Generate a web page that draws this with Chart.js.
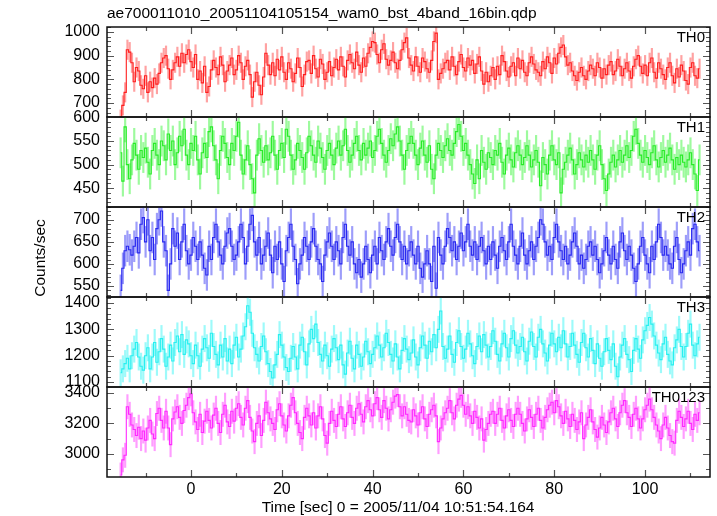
<!DOCTYPE html>
<html><head><meta charset="utf-8">
<script src="https://cdn.jsdelivr.net/npm/chart.js@4.4.1/dist/chart.umd.min.js"></script>
<style>html,body{margin:0;padding:0;background:#fff;}#wrap{position:relative;width:717px;height:516px;background:#fff;}canvas{position:absolute;left:0;top:0;}</style>
</head><body><div id="wrap"></div>
<script>
const plotTitle = "ae700011010_20051104105154_wam0_bst_4band_16bin.qdp";
const xTitle = "Time [sec] 0 = 2005/11/04 10:51:54.164";
const yTitle = "Counts/sec";
const bandNames = ["TH0", "TH1", "TH2", "TH3", "TH0123"];
const timeStart = -15.5;
const binWidth = 0.5;
const xTickLabels = [0, 20, 40, 60, 80, 100];

const TH0 = [
630,690,745,925,915,870,790,850,835,775,760,815,745,790,765,805,
780,825,870,890,900,845,800,840,870,895,855,910,870,905,925,875,
850,905,800,835,785,855,745,770,840,880,850,820,895,860,790,835,
860,890,820,840,900,870,800,855,880,820,725,790,830,775,735,810,
910,860,820,870,815,885,840,895,830,800,870,845,790,825,890,850,
770,820,875,880,825,900,845,810,885,865,800,830,875,815,850,885,
840,895,855,810,880,905,870,845,915,860,830,890,855,910,935,960,
955,905,870,925,950,885,860,880,915,870,845,880,925,955,975,890,
860,835,895,855,830,890,875,845,830,880,960,995,800,825,845,870,
880,840,895,855,820,875,905,850,835,890,860,880,825,865,895,835,
780,830,790,815,850,800,855,820,900,875,835,810,855,870,815,890,
845,880,830,815,870,895,865,840,830,815,875,845,895,870,825,890,
865,910,935,945,895,860,870,835,815,795,830,850,815,800,835,860,
845,815,870,850,805,845,820,860,875,820,835,885,855,815,845,870,
835,805,855,885,900,855,825,860,815,870,890,830,805,870,845,820,
800,850,870,815,785,845,810,860,835,795,780,850,870,815,805,845];
const TH1 = [
525,465,580,500,470,510,545,520,490,530,515,535,505,480,530,545,
520,500,550,540,510,565,530,550,500,525,560,540,575,520,500,545,
530,560,510,480,525,545,515,570,580,540,510,470,530,560,545,515,
500,545,530,560,590,520,480,510,540,500,470,440,520,555,530,505,
540,510,525,560,520,490,530,545,515,575,560,520,490,510,545,530,
515,490,525,560,540,520,505,550,535,515,490,530,545,520,500,535,
550,520,540,575,530,505,520,545,560,530,510,545,520,535,550,515,
530,560,575,545,520,505,530,555,540,565,580,550,520,490,530,545,
560,545,520,500,535,550,520,505,540,490,470,520,545,530,515,540,
555,530,520,545,570,585,560,530,545,520,500,480,460,510,470,530,
505,490,525,515,500,530,520,545,505,480,520,535,510,495,525,540,
520,500,515,540,520,495,510,530,505,455,515,500,480,520,540,510,
500,525,440,490,505,520,535,510,480,500,525,510,495,520,505,530,
510,490,520,540,500,470,445,480,505,520,495,510,530,505,520,540,
515,530,560,575,545,520,505,530,515,500,525,540,510,495,515,530,
505,520,535,510,490,515,500,520,505,495,510,525,500,480,445,510];
const TH2 = [
540,590,630,640,632,620,640,660,625,690,705,650,700,630,660,610,
680,700,720,650,630,540,600,680,640,670,610,650,690,630,600,620,
660,640,610,650,620,590,575,640,610,660,690,650,620,600,640,670,
680,640,610,620,650,690,660,600,640,690,710,650,620,660,600,620,
640,670,620,580,640,610,650,600,560,630,660,690,640,610,555,600,
620,660,640,610,650,680,640,610,600,560,620,650,670,640,610,650,
630,600,660,690,640,620,650,600,580,610,570,600,640,610,580,620,
640,600,660,630,610,650,680,640,620,660,690,650,610,640,600,630,
650,620,600,640,590,570,600,630,600,560,640,545,660,620,600,640,
680,660,630,650,610,640,670,630,650,690,640,620,650,610,640,660,
630,600,640,610,650,620,590,640,660,630,610,650,690,640,620,600,
640,670,620,600,630,650,610,640,660,700,690,650,620,640,610,660,
690,650,630,610,640,600,620,650,670,640,600,620,590,610,640,650,
620,640,610,580,600,630,660,620,600,640,610,590,650,670,630,610,
640,620,590,560,600,640,660,620,600,580,640,610,650,690,660,620,
640,620,600,590,640,660,610,580,600,630,650,620,680,690,650,630];
const TH3 = [
1135,1150,1170,1190,1150,1200,1225,1250,1195,1160,1145,1200,1230,1150,1195,1250,
1175,1215,1265,1225,1160,1195,1240,1180,1250,1275,1215,1280,1205,1260,1245,1200,
1170,1240,1200,1160,1225,1265,1230,1190,1285,1235,1205,1165,1240,1195,1265,1180,
1225,1170,1240,1270,1195,1225,1275,1310,1390,1365,1285,1230,1205,1180,1235,1275,
1215,1170,1140,1115,1165,1205,1280,1240,1195,1155,1140,1190,1235,1195,1150,1240,
1270,1215,1165,1245,1300,1265,1320,1250,1205,1180,1240,1200,1160,1225,1265,1230,
1185,1240,1165,1130,1210,1255,1190,1150,1240,1205,1160,1195,1255,1215,1170,1205,
1230,1275,1240,1195,1230,1285,1250,1205,1180,1245,1195,1150,1220,1265,1225,1185,
1210,1260,1195,1165,1230,1275,1240,1190,1255,1215,1280,1230,1300,1370,1235,1190,
1225,1275,1205,1175,1250,1295,1235,1190,1225,1285,1245,1200,1170,1235,1275,1215,
1280,1240,1195,1235,1295,1255,1205,1180,1245,1285,1230,1195,1265,1295,1240,1210,
1235,1270,1215,1180,1255,1290,1235,1195,1270,1300,1245,1210,1180,1240,1285,1245,
1215,1270,1230,1295,1245,1195,1235,1285,1240,1205,1175,1250,1285,1230,1195,1265,
1220,1170,1245,1190,1160,1215,1265,1220,1185,1245,1160,1120,1195,1240,1265,1205,
1185,1140,1220,1265,1225,1190,1260,1295,1315,1345,1320,1275,1240,1210,1185,1245,
1270,1205,1180,1165,1230,1260,1300,1235,1195,1235,1285,1320,1240,1200,1245,1270];
const TH0123 = [
2860,2960,2990,3310,3260,3190,3160,3120,3175,3100,3150,3090,3170,3220,3130,3100,
3265,3300,3220,3170,3280,3170,3060,3230,3275,3310,3240,3200,3285,3320,3370,3395,
3270,3210,3160,3260,3140,3215,3280,3220,3170,3255,3300,3200,3140,3260,3320,3210,
3180,3280,3215,3300,3330,3240,3190,3300,3350,3240,3150,3080,3200,3250,3120,3220,
3340,3270,3230,3200,3160,3290,3330,3250,3190,3150,3250,3320,3370,3270,3200,3140,
3100,3240,3300,3250,3190,3270,3170,3250,3310,3230,3120,3070,3200,3280,3220,3180,
3260,3310,3230,3180,3270,3320,3240,3200,3300,3330,3260,3210,3310,3350,3290,3250,
3330,3370,3290,3240,3350,3300,3230,3290,3340,3380,3390,3310,3250,3310,3260,3220,
3210,3290,3250,3190,3270,3310,3230,3180,3260,3290,3320,3250,3080,3170,3230,3270,
3300,3350,3270,3230,3320,3360,3385,3320,3260,3310,3250,3200,3280,3240,3170,3230,
3090,3160,3200,3260,3280,3200,3260,3300,3220,3170,3250,3290,3220,3180,3260,3300,
3260,3200,3150,3230,3290,3240,3180,3260,3300,3220,3170,3240,3290,3320,3340,3270,
3350,3310,3250,3200,3280,3230,3180,3260,3220,3160,3210,3270,3100,3190,3240,3290,
3210,3160,3110,3170,3240,3190,3140,3210,3270,3300,3230,3180,3270,3320,3350,3270,
3240,3180,3260,3300,3230,3170,3230,3290,3320,3360,3290,3240,3190,3150,3100,3190,
3240,3170,3120,3080,3070,3220,3280,3240,3180,3230,3280,3200,3160,3260,3220,3270];

const errTH0 = 41, errTH1 = 32, errTH2 = 35, errTH3 = 50, errTH0123 = 80;

const series = [TH0, TH1, TH2, TH3, TH0123];
const errors = [errTH0, errTH1, errTH2, errTH3, errTH0123];
const lineColors = ['rgb(255,30,30)', 'rgb(40,235,40)', 'rgb(40,40,240)', 'rgb(40,240,240)', 'rgb(255,40,255)'];
const errColors = ['rgba(255,70,70,0.5)', 'rgba(60,245,60,0.5)', 'rgba(60,60,245,0.5)', 'rgba(60,245,245,0.5)', 'rgba(255,60,255,0.5)'];
const yRanges = [[641, 1021], [410, 601], [525, 729], [1081, 1423], [2847, 3440]];
const yMajor = [100, 50, 50, 100, 200];
const yMinor = [20, 10, 10, 20, 100];
const panelTops = [27, 117, 207, 297, 387];
const panelH = 90;
const X_MIN = -18.5, X_MAX = 114.3;
const FONT = '"Liberation Sans", Arial, Helvetica, sans-serif';

Chart.defaults.font.family = FONT;
Chart.defaults.color = '#000';

const wrap = document.getElementById('wrap');

function isMult(v, s) { const r = v / s; return Math.abs(r - Math.round(r)) < 1e-6; }

function framePlugin(k) {
  return {
    id: 'frame' + k,
    afterDatasetsDraw(chart) {
      const ctx = chart.ctx, a = chart.chartArea, x = chart.scales.x, y = chart.scales.y;
      ctx.save();
      ctx.strokeStyle = '#555';
      ctx.lineWidth = 1.2;
      ctx.beginPath();
      const ys = yMinor[k];
      for (let v = Math.ceil(y.min / ys) * ys; v <= y.max + 1e-9; v += ys) {
        const py = Math.round(y.getPixelForValue(v)) + 0.5;
        const len = isMult(v, yMajor[k]) ? 7 : 4;
        ctx.moveTo(a.left, py); ctx.lineTo(a.left + len, py);
        ctx.moveTo(a.right, py); ctx.lineTo(a.right - len, py);
      }
      for (let v = Math.ceil(x.min / 10) * 10; v <= x.max + 1e-9; v += 10) {
        const px = Math.round(x.getPixelForValue(v)) + 0.5;
        const len = isMult(v, 20) ? 7 : 4;
        ctx.moveTo(px, a.top); ctx.lineTo(px, a.top + len);
        ctx.moveTo(px, a.bottom); ctx.lineTo(px, a.bottom - len);
      }
      ctx.stroke();
      ctx.strokeStyle = '#111';
      ctx.lineWidth = 1.5;
      ctx.strokeRect(a.left, a.top, a.right - a.left, a.bottom - a.top);
      ctx.fillStyle = '#000';
      ctx.font = '15px ' + FONT;
      ctx.textAlign = 'right';
      ctx.textBaseline = 'middle';
      ctx.fillText(bandNames[k], a.right - 5, a.top + 11);
      if (k === 4) {
        ctx.textAlign = 'left';
        ctx.font = '15.5px ' + FONT;
        ctx.fillText(plotTitle, 107, 14);
        ctx.textAlign = 'center';
        ctx.fillText(xTitle, 398, 508);
        ctx.save();
        ctx.translate(41, 258);
        ctx.rotate(-Math.PI / 2);
        ctx.fillText(yTitle, 0, 0);
        ctx.restore();
      }
      ctx.restore();
    }
  };
}

series.forEach((vals, k) => {
  const cv = document.createElement('canvas');
  cv.width = 717; cv.height = 516;
  wrap.appendChild(cv);
  const times = vals.map((_, i) => timeStart + i * binWidth);
  const err = errors[k];
  const isBottom = k === 4;
  const top = panelTops[k];
  const bottomPad = isBottom ? 0 : 516 - (top + panelH);
  new Chart(cv, {
    type: 'line',
    data: {
      datasets: [
        {
          type: 'bar',
          data: times.map((t, i) => ({ x: t, y: [vals[i] - err, vals[i] + err] })),
          backgroundColor: errColors[k],
          borderWidth: 0,
          barThickness: 1.5,
          clip: 0,
          order: 1
        },
        {
          type: 'line',
          data: times.map((t, i) => ({ x: t, y: vals[i] })),
          borderColor: lineColors[k],
          borderWidth: 1.1,
          stepped: 'middle',
          pointRadius: 0,
          fill: false,
          clip: 0,
          order: 0
        }
      ]
    },
    options: {
      responsive: false,
      animation: false,
      events: [],
      layout: { padding: { left: 0, right: 7, top: top, bottom: bottomPad } },
      plugins: { legend: { display: false }, tooltip: { enabled: false }, title: { display: false } },
      scales: {
        x: {
          type: 'linear', min: X_MIN, max: X_MAX, offset: false,
          display: isBottom,
          grid: { display: false, drawTicks: false },
          border: { display: false },
          afterBuildTicks: (s) => { s.ticks = xTickLabels.map(v => ({ value: v })); },
          afterFit: (s) => { s.height = isBottom ? 39 : 0; },
          ticks: { autoSkip: false, maxRotation: 0, padding: 3, font: { size: 16 }, color: '#000', callback: (v) => String(v) }
        },
        y: {
          type: 'linear', min: yRanges[k][0], max: yRanges[k][1],
          grid: { display: false, drawTicks: false },
          border: { display: false },
          afterBuildTicks: (s) => {
            const t = [];
            for (let v = Math.ceil(s.min / yMajor[k]) * yMajor[k]; v <= s.max; v += yMajor[k]) t.push({ value: v });
            s.ticks = t;
          },
          afterFit: (s) => { s.width = 107; },
          ticks: { autoSkip: false, padding: 7, font: { size: 16 }, color: '#000', callback: (v) => String(v) }
        }
      }
    },
    plugins: [framePlugin(k)]
  });
});
</script>
</body></html>
